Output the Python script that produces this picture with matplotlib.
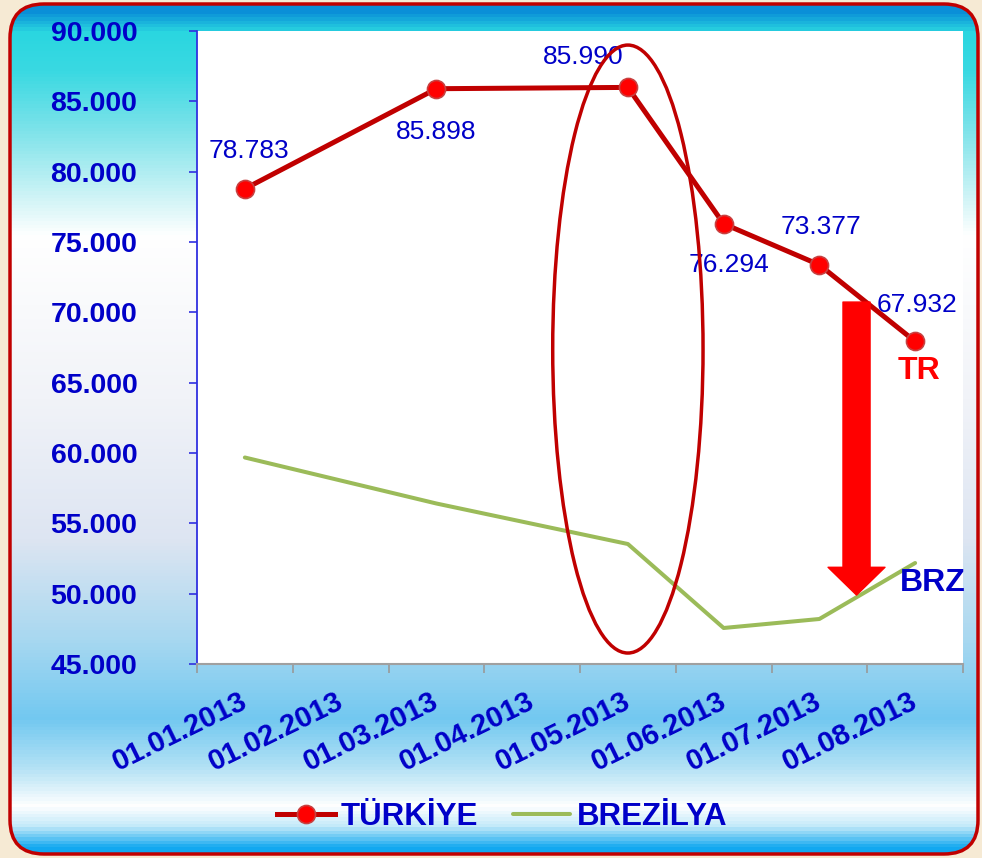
import numpy as np
import matplotlib.pyplot as plt
from matplotlib.colors import LinearSegmentedColormap
from matplotlib.patches import FancyBboxPatch, Ellipse, FancyArrowPatch
from matplotlib.ticker import FixedLocator, FuncFormatter
from matplotlib.transforms import ScaledTranslation

plt.rcParams['font.family'] = ['Liberation Sans', 'DejaVu Sans']

# data
months = ['01.01.2013', '01.02.2013', '01.03.2013', '01.04.2013',
          '01.05.2013', '01.06.2013', '01.07.2013', '01.08.2013']
turkiye = np.array([78783, np.nan, 85898, np.nan, 85990, 76294, 73377, 67932])
brezilya = np.array([59680, np.nan, 56410, np.nan, 53530, 47560, 48200, 52180])
tr_labels = ['78.783', None, '85.898', None, '85.990', '76.294', '73.377', '67.932']
y_ticks = [45000, 50000, 55000, 60000, 65000, 70000, 75000, 80000, 85000, 90000]

BLUE = '#0000C8'
DARK_RED = '#C00000'
GREEN = '#9BBB59'

W, H = 982, 858
fig = plt.figure(figsize=(W / 100, H / 100), dpi=100)
fig.patch.set_facecolor('#F6EAD4')

# background panel with vertical gradient
bg = fig.add_axes([0, 0, 1, 1])
bg.set_xlim(0, W)
bg.set_ylim(H, 0)
bg.axis('off')
stops = [(0, '#0A8FD8'), (10, '#0A8FD8'), (30, '#2AD6E0'), (70, '#3AD9E2'),
         (130, '#7FE3EA'), (200, '#D4F5F7'), (235, '#FFFFFF'), (400, '#F1F3F8'),
         (540, '#DDE5F2'), (640, '#A8D8F0'), (720, '#72C8F0'), (770, '#B4E2F5'),
         (808, '#FFFFFF'), (828, '#C4EAF9'), (850, '#12A8F0'), (858, '#12A8F0')]
cmap = LinearSegmentedColormap.from_list('bg', [(p / H, c) for p, c in stops])
grad = np.linspace(0, 1, H).reshape(-1, 1)
im = bg.imshow(grad, cmap=cmap, extent=(0, W, H, 0), aspect='auto', vmin=0, vmax=1)
panel = FancyBboxPatch((10, 4), 968, 850, boxstyle='round,pad=0,rounding_size=34',
                       facecolor='none', edgecolor=DARK_RED, linewidth=2.5)
bg.add_patch(panel)
im.set_clip_path(panel)

# main chart
ax = fig.add_axes([197 / W, 1 - 664 / H, 766 / W, 633 / H])
ax.set_facecolor('white')
x = np.arange(len(months))

m = ~np.isnan(brezilya)
line_br, = ax.plot(x[m], brezilya[m], color=GREEN, lw=2.9, solid_capstyle='round',
                   label='BREZİLYA')
m = ~np.isnan(turkiye)
line_tr, = ax.plot(x[m], turkiye[m], color=DARK_RED, lw=3.6, marker='o', ms=13,
                   mfc='#FF0000', mec='#C84040', mew=1.2, label='TÜRKİYE')

offsets = [(3, 27), None, (0, -31), None, (-32, 22), (4, -30), (1, 27), (1, 26)]
for xi, yi, lab, off in zip(x, turkiye, tr_labels, offsets):
    if lab is None:
        continue
    ax.annotate(lab, (xi, yi), xytext=off, textcoords='offset points',
                ha='center', va='center', fontsize=19, color=BLUE)

ax.set_xlim(-0.5, len(months) - 0.5)
ax.set_ylim(45000, 90000)
ax.yaxis.set_major_locator(FixedLocator(y_ticks))
ax.yaxis.set_major_formatter(FuncFormatter(lambda v, p: f'{v / 1000:.3f}'))
ax.tick_params(axis='y', colors='#3030E0', length=6, width=1.2, pad=37,
               labelcolor=BLUE, labelsize=20.5)
for t in ax.get_yticklabels():
    t.set_fontweight('bold')

ax.set_xticks(np.arange(-0.5, len(months)), [''] * (len(months) + 1))
ax.set_xticks(x, months, minor=True)
ax.tick_params(axis='x', which='major', colors='#999999', length=6.5, width=1.2)
ax.tick_params(axis='x', which='minor', length=0, pad=17, labelcolor=BLUE, labelsize=21)
shift = ScaledTranslation(-4 / 72, 0, fig.dpi_scale_trans)
for t in ax.get_xticklabels(minor=True):
    t.set_rotation(26)
    t.set_ha('right')
    t.set_va('top')
    t.set_rotation_mode('anchor')
    t.set_fontweight('bold')
    t.set_transform(t.get_transform() + shift)

for s in ['top', 'right']:
    ax.spines[s].set_visible(False)
ax.spines['left'].set_color('#3030E0')
ax.spines['left'].set_linewidth(1.3)
ax.spines['bottom'].set_color('#A0A0A0')
ax.spines['bottom'].set_linewidth(1.5)

# annotations
ax.add_patch(Ellipse((4, 67390), width=1.57, height=43220, fill=False,
                     edgecolor=DARK_RED, linewidth=2.5, zorder=4))
ax.add_patch(FancyArrowPatch((6.388, 70730), (6.388, 49900),
                             arrowstyle='simple,head_length=20,head_width=41,tail_width=19.5',
                             mutation_scale=1, shrinkA=0, shrinkB=0,
                             color='#FF0000', zorder=5))
ax.text(7.04, 65800, 'TR', color='#FF0000', fontsize=23, fontweight='bold',
        ha='center', va='center', zorder=6)
ax.text(7.18, 50760, 'BRZ', color=BLUE, fontsize=23, fontweight='bold',
        ha='center', va='center', zorder=6, clip_on=False)

leg = fig.legend(handles=[line_tr, line_br], loc='center', ncol=2,
                 bbox_to_anchor=(502 / W, 1 - 817 / H), frameon=False,
                 prop={'size': 22.5, 'weight': 'bold'}, labelcolor=BLUE,
                 handlelength=1.85, handletextpad=0.2, columnspacing=1.1)

fig.savefig('out.png', dpi=100, facecolor=fig.get_facecolor())
